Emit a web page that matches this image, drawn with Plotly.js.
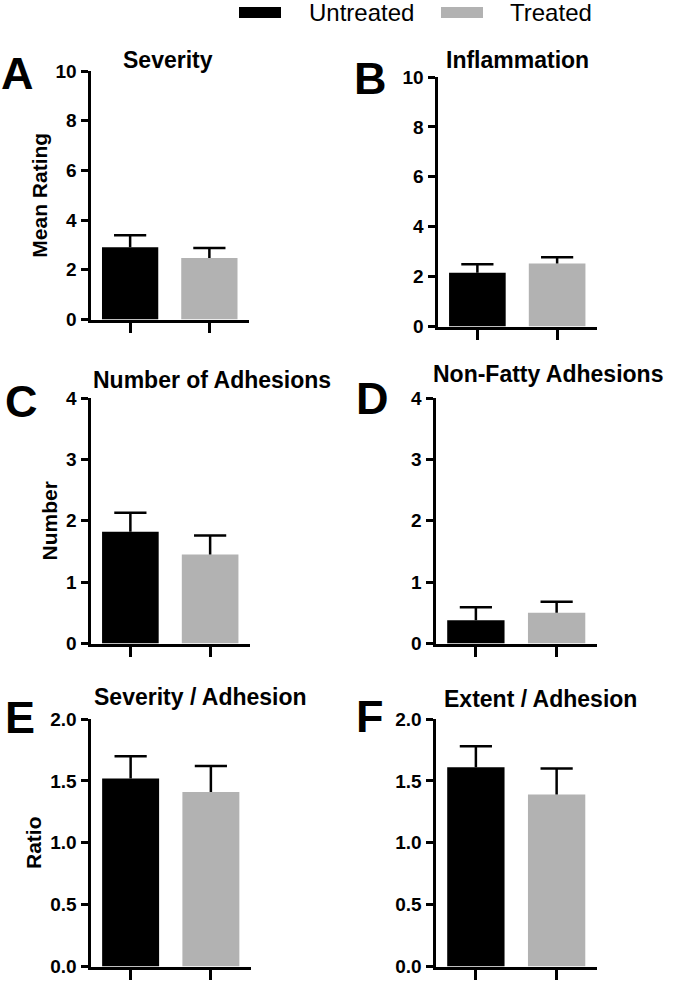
<!DOCTYPE html>
<html>
<head>
<meta charset="utf-8">
<script src="https://cdn.plot.ly/plotly-3.0.1.min.js"></script>
<style>html,body{margin:0;padding:0;background:#fff;}#chart{width:675px;height:982px;}</style>
</head>
<body>
<div id="chart"></div>
<script>
// ---- data ----
const categories = ['Untreated', 'Treated'];
const panelLetters = ['A', 'B', 'C', 'D', 'E', 'F'];
const panelTitles = ['Severity', 'Inflammation', 'Number of Adhesions', 'Non-Fatty Adhesions', 'Severity / Adhesion', 'Extent / Adhesion'];
const yTitles = ['Mean Rating', '', 'Number', '', 'Ratio', ''];
const untreatedMean = [2.91, 2.15, 1.82, 0.38, 1.52, 1.61];
const untreatedSEM  = [0.48, 0.34, 0.31, 0.21, 0.18, 0.17];
const treatedMean   = [2.47, 2.53, 1.45, 0.50, 1.41, 1.39];
const treatedSEM    = [0.41, 0.25, 0.31, 0.18, 0.21, 0.21];
const yMax  = [10, 10, 4, 4, 2, 2];
const yStep = [2, 2, 1, 1, 0.5, 0.5];
const yFormat = ['d', 'd', 'd', 'd', '.1f', '.1f'];

// ---- layout geometry (pixels) ----
const W = 675, H = 982;
const boxes = [
  {l: 89,  r: 249, t: 71,  b: 321},
  {l: 436, r: 597, t: 77,  b: 328},
  {l: 89,  r: 250, t: 398, b: 645},
  {l: 434, r: 597, t: 398, b: 645},
  {l: 89,  r: 251, t: 719, b: 968},
  {l: 434, r: 597, t: 719, b: 968}
];
const titlePos = [[168, 60], [517, 60], [212, 380], [548, 374], [200, 697], [540, 699]];
const letterPos = [[17, 74], [371, 78], [21, 401], [372, 398], [20, 717], [370, 716]];
const colors = ['#000000', '#b2b2b2'];
const FONT = 'Liberation Sans, Arial, Helvetica, sans-serif';
const LW = 3;

const px = x => x / W;
const py = y => 1 - y / H;

const traces = [];
const layout = {
  width: W, height: H,
  margin: {l: 0, r: 0, t: 0, b: 0},
  paper_bgcolor: '#fff', plot_bgcolor: '#fff',
  barmode: 'overlay',
  showlegend: false,
  font: {family: FONT, color: '#000'},
  annotations: [],
  shapes: []
};

const means = [untreatedMean, treatedMean];
const sems = [untreatedSEM, treatedSEM];

for (let i = 0; i < 6; i++) {
  const n = i === 0 ? '' : String(i + 1);
  const b = boxes[i];
  for (let s = 0; s < 2; s++) {
    traces.push({
      type: 'bar',
      name: categories[s],
      x: [categories[s]],
      y: [means[s][i]],
      width: 0.71,
      marker: {color: colors[s], line: {width: 0}},
      xaxis: 'x' + n, yaxis: 'y' + n,
      hoverinfo: 'skip'
    });
  }
  // upward-only SEM bars: stem from mean to mean+SEM, cap at the top only
  for (let s = 0; s < 2; s++) {
    traces.push({
      type: 'scatter', mode: 'markers',
      name: categories[s] + ' SEM',
      x: [categories[s]],
      y: [means[s][i] + sems[s][i]],
      marker: {symbol: 'line-ew', size: 23, color: '#000', line: {width: 2.5, color: '#000'}},
      error_y: {type: 'data', symmetric: false, array: [0], arrayminus: [sems[s][i]],
                color: '#000', thickness: 2.5, width: 0},
      xaxis: 'x' + n, yaxis: 'y' + n,
      hoverinfo: 'skip', cliponaxis: false
    });
  }
  layout['xaxis' + n] = {
    domain: [px(b.l + LW / 2), px(b.r)],
    anchor: 'y' + n,
    type: 'category',
    categoryorder: 'array', categoryarray: categories,
    range: [-0.5, 1.5],
    showline: true, linecolor: '#000', linewidth: LW,
    ticks: 'outside', ticklen: 10, tickwidth: LW, tickcolor: '#000',
    showticklabels: false, showgrid: false, zeroline: false, fixedrange: true
  };
  layout['yaxis' + n] = {
    domain: [py(b.b - LW / 2), py(b.t)],
    anchor: 'x' + n,
    range: [0, yMax[i]],
    tick0: 0, dtick: yStep[i], tickformat: yFormat[i],
    showline: true, linecolor: '#000', linewidth: LW,
    ticks: 'outside', ticklen: 7, tickwidth: LW, tickcolor: '#000',
    tickfont: {family: FONT, size: 19, weight: 'bold', color: '#000'},
    showgrid: false, zeroline: false, fixedrange: true,
    title: {text: yTitles[i], standoff: 3, font: {family: FONT, size: 21, weight: 'bold', color: '#000'}}
  };
  layout.annotations.push({
    text: panelTitles[i], xref: 'paper', yref: 'paper',
    x: px(titlePos[i][0]), y: py(titlePos[i][1]), xanchor: 'center', yanchor: 'middle',
    showarrow: false, font: {family: FONT, size: 23, weight: 'bold', color: '#000'}
  });
  layout.annotations.push({
    text: panelLetters[i], xref: 'paper', yref: 'paper',
    x: px(letterPos[i][0]), y: py(letterPos[i][1]), xanchor: 'center', yanchor: 'middle',
    showarrow: false, font: {family: FONT, size: 45, weight: 'bold', color: '#000'}
  });
}

// legend (key) built from the category names and colours
const legendRects = [[239, 281], [441, 483]];
const legendText = [307, 508];
for (let s = 0; s < 2; s++) {
  layout.shapes.push({
    type: 'rect', xref: 'paper', yref: 'paper',
    x0: px(legendRects[s][0]), x1: px(legendRects[s][1]), y0: py(18), y1: py(7),
    fillcolor: colors[s], line: {width: 0}
  });
  layout.annotations.push({
    text: categories[s], xref: 'paper', yref: 'paper',
    x: px(legendText[s]), y: py(12.5), xanchor: 'left', yanchor: 'middle',
    showarrow: false, font: {family: FONT, size: 24, color: '#000'}
  });
}

Plotly.newPlot('chart', traces, layout, {displayModeBar: false, staticPlot: true});
</script>
</body>
</html>
